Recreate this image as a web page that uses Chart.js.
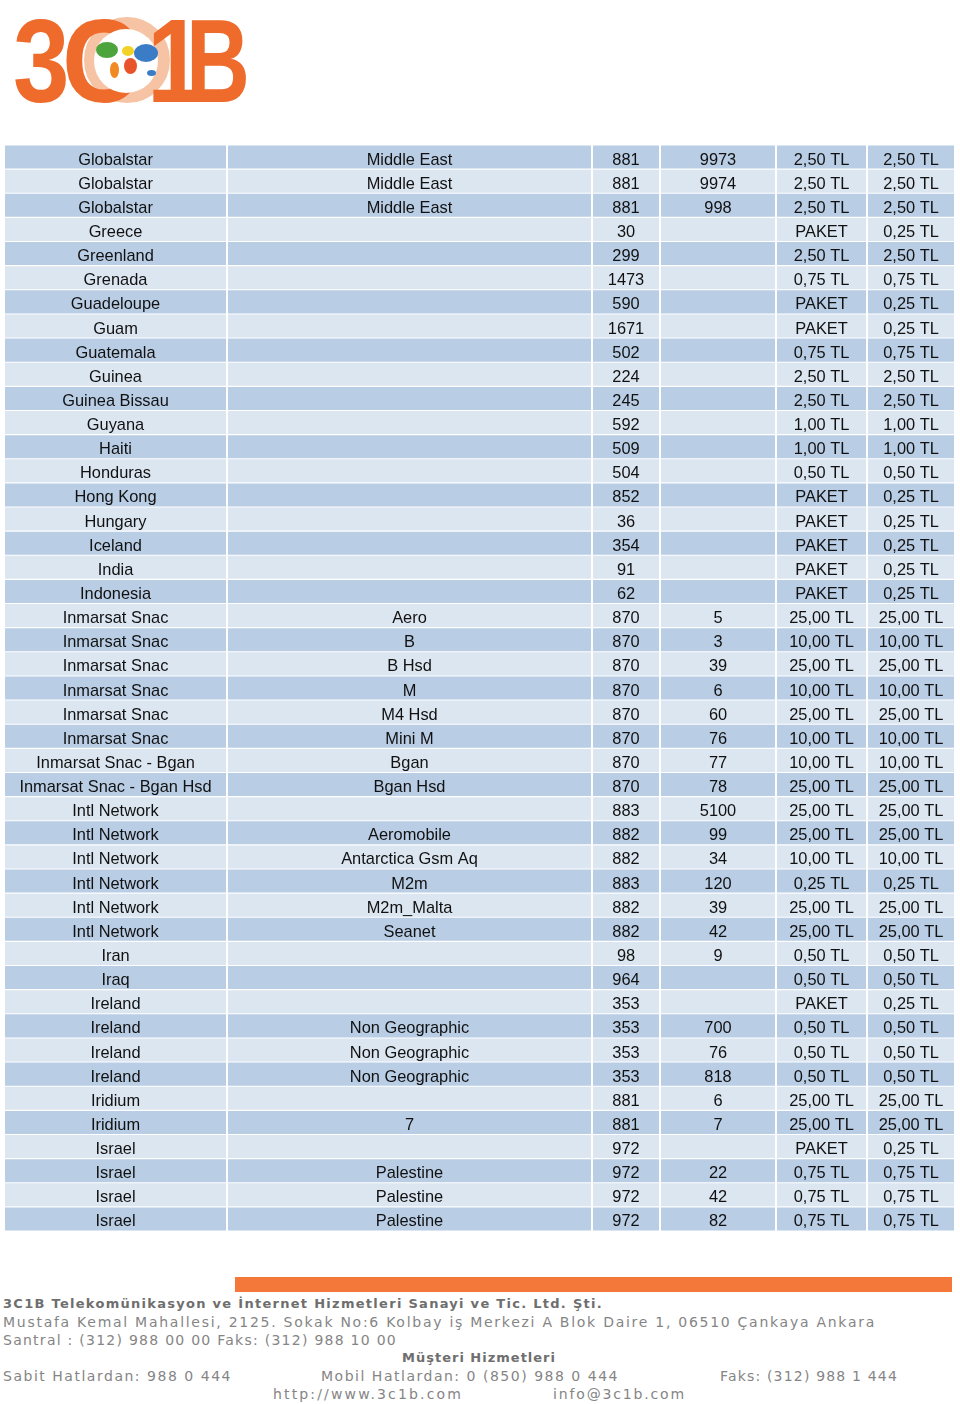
<!DOCTYPE html>
<html>
<head>
    <title>3C1B Tarife</title>
    <script src="https://cdn.jsdelivr.net/npm/chart.js"></script>
    <style>
        body {
            margin: 0;
            width: 960px;
            height: 1404px;
            position: relative;
            background: #fff;
            overflow: hidden;
            font-family: "Liberation Sans", Arial, sans-serif;
        }

        .logo span {
            position: absolute;
            font-family: "Liberation Sans", Arial, sans-serif;
            font-weight: bold;
            font-size: 118px;
            line-height: 1;
            color: #ee6b2b;
            transform-origin: left top;
        }

        .ring {
            position: absolute;
            border-radius: 50%;
        }

        .blob {
            position: absolute;
            border-radius: 50%;
        }

        #rates {
            position: absolute;
            left: 0;
            top: 145px;
        }

        .bar {
            position: absolute;
            left: 235px;
            top: 1277px;
            width: 717px;
            height: 15px;
            background: #f47839;
        }

        .foot {
            position: absolute;
            white-space: nowrap;
            font-family: "DejaVu Sans", sans-serif;
            font-size: 14px;
            line-height: 16px;
            color: #858585;
        }

        .foot.b {
            font-size: 13px;
            font-weight: bold;
            color: #6e6e6e;
        }
    </style>
</head>
<body>
    <div class="logo">
        <div class="ring" style="left:84px; top:17px; width:58px; height:58px; border:14px solid #f6c3a4"></div>
        <span style="left:13px; top:2px; transform:scaleX(0.86)">3</span>
        <span style="left:62px; top:2px; transform:scaleX(0.92)">C</span>
        <div class="ring" style="left:94px; top:29px; width:64px; height:64px; background:#fff"></div>
        <div class="blob" style="left:96px; top:42px; width:22px; height:16px; background:#4da43c"></div>
        <div class="blob" style="left:110px; top:62px; width:9px; height:16px; background:#f08a22"></div>
        <div class="blob" style="left:122px; top:46px; width:12px; height:10px; background:#f2d325"></div>
        <div class="blob" style="left:124px; top:58px; width:13px; height:16px; background:#e8532a"></div>
        <div class="blob" style="left:134px; top:44px; width:24px; height:18px; background:#3a7cc6"></div>
        <div class="blob" style="left:147px; top:70px; width:9px; height:6px; background:#3a7cc6"></div>
        <span style="left:147px; top:2px; transform:scaleX(0.86)">1</span>
        <span style="left:186px; top:2px; transform:scaleX(0.75)">B</span>
    </div>

    <canvas id="rates" width="960" height="1086"></canvas>

    <div class="bar"></div>
    <div class="foot b" data-l="3" data-r="603" style="top:1296px">3C1B Telekomünikasyon ve İnternet Hizmetleri Sanayi ve Tic. Ltd. Şti.</div>
    <div class="foot" data-l="3" data-r="876" style="top:1314px">Mustafa Kemal Mahallesi, 2125. Sokak No:6 Kolbay iş Merkezi A Blok Daire 1, 06510 Çankaya Ankara</div>
    <div class="foot" data-l="3" data-r="397" style="top:1332px">Santral : (312) 988 00 00 Faks: (312) 988 10 00</div>
    <div class="foot b" data-l="402" data-r="556" style="top:1350px">Müşteri Hizmetleri</div>
    <div class="foot" data-l="3" data-r="232" style="top:1368px">Sabit Hatlardan: 988 0 444</div>
    <div class="foot" data-l="321" data-r="619" style="top:1368px">Mobil Hatlardan: 0 (850) 988 0 444</div>
    <div class="foot" data-l="720" data-r="898" style="top:1368px">Faks: (312) 988 1 444</div>
    <div class="foot" data-l="273" data-r="463" style="top:1386px">http://www.3c1b.com</div>
    <div class="foot" data-l="553" data-r="686" style="top:1386px">info@3c1b.com</div>

    <script>
        // tablo verileri
        const countries = ['Globalstar', 'Globalstar', 'Globalstar', 'Greece', 'Greenland', 'Grenada',
            'Guadeloupe', 'Guam', 'Guatemala', 'Guinea', 'Guinea Bissau', 'Guyana', 'Haiti', 'Honduras',
            'Hong Kong', 'Hungary', 'Iceland', 'India', 'Indonesia', 'Inmarsat Snac', 'Inmarsat Snac',
            'Inmarsat Snac', 'Inmarsat Snac', 'Inmarsat Snac', 'Inmarsat Snac', 'Inmarsat Snac - Bgan',
            'Inmarsat Snac - Bgan Hsd', 'Intl Network', 'Intl Network', 'Intl Network', 'Intl Network',
            'Intl Network', 'Intl Network', 'Iran', 'Iraq', 'Ireland', 'Ireland', 'Ireland', 'Ireland',
            'Iridium', 'Iridium', 'Israel', 'Israel', 'Israel', 'Israel'];
        const regions = ['Middle East', 'Middle East', 'Middle East', '', '', '', '', '', '', '', '', '', '', '',
            '', '', '', '', '', 'Aero', 'B', 'B Hsd', 'M', 'M4 Hsd', 'Mini M', 'Bgan', 'Bgan Hsd', '',
            'Aeromobile', 'Antarctica Gsm Aq', 'M2m', 'M2m_Malta', 'Seanet', '', '', '', 'Non Geographic',
            'Non Geographic', 'Non Geographic', '', '7', '', 'Palestine', 'Palestine', 'Palestine'];
        const countryCodes = ['881', '881', '881', '30', '299', '1473', '590', '1671', '502', '224', '245',
            '592', '509', '504', '852', '36', '354', '91', '62', '870', '870', '870', '870', '870', '870',
            '870', '870', '883', '882', '882', '883', '882', '882', '98', '964', '353', '353', '353', '353',
            '881', '881', '972', '972', '972', '972'];
        const areaCodes = ['9973', '9974', '998', '', '', '', '', '', '', '', '', '', '', '', '', '', '', '', '',
            '5', '3', '39', '6', '60', '76', '77', '78', '5100', '99', '34', '120', '39', '42', '9', '', '',
            '700', '76', '818', '6', '7', '', '22', '42', '82'];
        const prices = ['2,50 TL', '2,50 TL', '2,50 TL', 'PAKET', '2,50 TL', '0,75 TL', 'PAKET', 'PAKET',
            '0,75 TL', '2,50 TL', '2,50 TL', '1,00 TL', '1,00 TL', '0,50 TL', 'PAKET', 'PAKET', 'PAKET',
            'PAKET', 'PAKET', '25,00 TL', '10,00 TL', '25,00 TL', '10,00 TL', '25,00 TL', '10,00 TL',
            '10,00 TL', '25,00 TL', '25,00 TL', '25,00 TL', '10,00 TL', '0,25 TL', '25,00 TL', '25,00 TL',
            '0,50 TL', '0,50 TL', 'PAKET', '0,50 TL', '0,50 TL', '0,50 TL', '25,00 TL', '25,00 TL', 'PAKET',
            '0,75 TL', '0,75 TL', '0,75 TL'];
        const rates = ['2,50 TL', '2,50 TL', '2,50 TL', '0,25 TL', '2,50 TL', '0,75 TL', '0,25 TL', '0,25 TL',
            '0,75 TL', '2,50 TL', '2,50 TL', '1,00 TL', '1,00 TL', '0,50 TL', '0,25 TL', '0,25 TL', '0,25 TL',
            '0,25 TL', '0,25 TL', '25,00 TL', '10,00 TL', '25,00 TL', '10,00 TL', '25,00 TL', '10,00 TL',
            '10,00 TL', '25,00 TL', '25,00 TL', '25,00 TL', '10,00 TL', '0,25 TL', '25,00 TL', '25,00 TL',
            '0,50 TL', '0,50 TL', '0,25 TL', '0,50 TL', '0,50 TL', '0,50 TL', '25,00 TL', '25,00 TL', '0,25 TL',
            '0,75 TL', '0,75 TL', '0,75 TL'];

        const columns = [countries, regions, countryCodes, areaCodes, prices, rates];
        // sütun kenarları (sayfa pikseli)
        const edges = [[5, 226], [228, 591], [593, 659], [661, 775], [777, 866], [868, 954]];
        const rowLabels = countries.map((_, i) => i);

        const cellText = {
            id: 'cellText',
            afterDatasetsDraw(chart) {
                const ctx = chart.ctx;
                const x = chart.scales.x;
                const y = chart.scales.y;
                ctx.save();
                ctx.font = '16.4px "Liberation Sans", Arial, sans-serif';
                ctx.fillStyle = '#111';
                ctx.textAlign = 'center';
                ctx.textBaseline = 'middle';
                columns.forEach((col, c) => {
                    const cx = x.getPixelForValue((edges[c][0] + edges[c][1]) / 2);
                    col.forEach((t, i) => {
                        if (t) ctx.fillText(t, cx, y.getPixelForValue(i) + 3);
                    });
                });
                ctx.restore();
            }
        };

        const ctx = document.getElementById('rates').getContext('2d');
        new Chart(ctx, {
            type: 'bar',
            data: {
                labels: rowLabels,
                datasets: columns.map((col, c) => ({
                    data: col.map(() => edges[c]),
                    backgroundColor: col.map((_, i) => i % 2 ? '#dce6f1' : '#b9cde5'),
                    borderWidth: 0,
                    grouped: false,
                    barPercentage: 1,
                    categoryPercentage: 0.955
                }))
            },
            options: {
                indexAxis: 'y',
                responsive: false,
                animation: false,
                devicePixelRatio: 1,
                layout: { padding: 0 },
                plugins: {
                    legend: { display: false },
                    tooltip: { enabled: false }
                },
                scales: {
                    x: { type: 'linear', min: 0, max: 960, display: false },
                    y: { type: 'category', display: false, offset: true }
                }
            },
            plugins: [cellText]
        });

        // alt bilgi satırlarını genişliğe yay
        document.querySelectorAll('.foot').forEach(el => {
            const l = +el.dataset.l, r = +el.dataset.r;
            el.style.left = l + 'px';
            const n = el.textContent.length;
            const w = el.getBoundingClientRect().width;
            el.style.letterSpacing = ((r - l - w) / n) + 'px';
        });
    </script>
</body>
</html>
